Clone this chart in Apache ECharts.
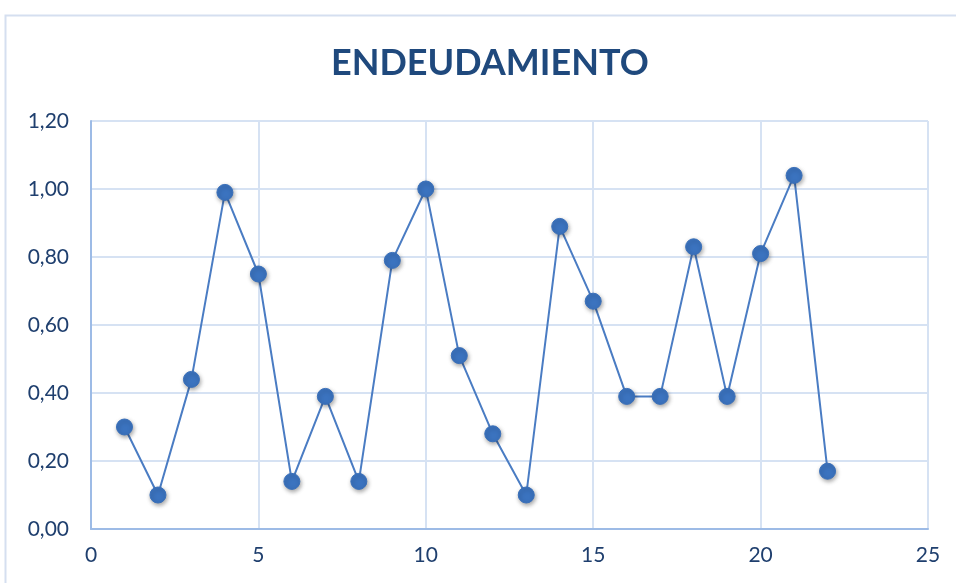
<!DOCTYPE html>
<html>
<head>
<meta charset="utf-8">
<script src="https://cdn.jsdelivr.net/npm/echarts@6/dist/echarts.min.js"></script>
<style>html,body{margin:0;padding:0;background:#fff}#c{width:956px;height:583px}</style>
</head>
<body>
<div id="c"></div>
<script>
const titleText = 'ENDEUDAMIENTO';
const xValues = [1,2,3,4,5,6,7,8,9,10,11,12,13,14,15,16,17,18,19,20,21,22];
const yValues = [0.30,0.10,0.44,0.99,0.75,0.14,0.39,0.14,0.79,1.00,0.51,0.28,0.10,0.89,0.67,0.39,0.39,0.83,0.39,0.81,1.04,0.17];

const chart = echarts.init(document.getElementById('c'), null, {renderer:'canvas'});
const data = xValues.map((x,i)=>[x,yValues[i]]);
const labelColor = '#1f3f6e';
chart.setOption({
  animation:false,
  backgroundColor:'#fff',
  graphic:[{type:'rect',shape:{x:5.5,y:15.5,width:1000,height:700},style:{fill:'none',stroke:'#d5dff0',lineWidth:2},silent:true}],
  title:{text:titleText,left:326,top:40,textStyle:{fontFamily:'Lato',fontWeight:'bold',fontSize:36,color:'#1f497d'}},
  grid:{left:91,right:28,top:121,bottom:54,containLabel:false},
  xAxis:{type:'value',min:0,max:25,interval:5,
    axisLine:{show:true,lineStyle:{color:'#9dbbe6',width:2}},
    axisTick:{show:false},
    axisLabel:{color:labelColor,fontSize:21,fontFamily:'Lato',margin:16},
    splitLine:{show:true,lineStyle:{color:'#d6e2f3',width:2}}},
  yAxis:{type:'value',min:0,max:1.2,interval:0.2,
    axisLine:{show:true,lineStyle:{color:'#9dbbe6',width:2}},
    axisTick:{show:false},
    axisLabel:{color:labelColor,fontSize:21,fontFamily:'Lato',margin:22,formatter:v=>v.toFixed(2).replace('.',',')},
    splitLine:{show:true,lineStyle:{color:'#d6e2f3',width:2}}},
  series:[{type:'line',data:data,symbol:'circle',symbolSize:16,
    lineStyle:{color:'#4a7cc3',width:2},
    itemStyle:{color:'#3b73bf',borderColor:'#3a70ba',borderWidth:1,shadowBlur:4,shadowColor:'rgba(0,0,0,0.35)',shadowOffsetX:1,shadowOffsetY:2}}]
});
</script>
</body>
</html>
